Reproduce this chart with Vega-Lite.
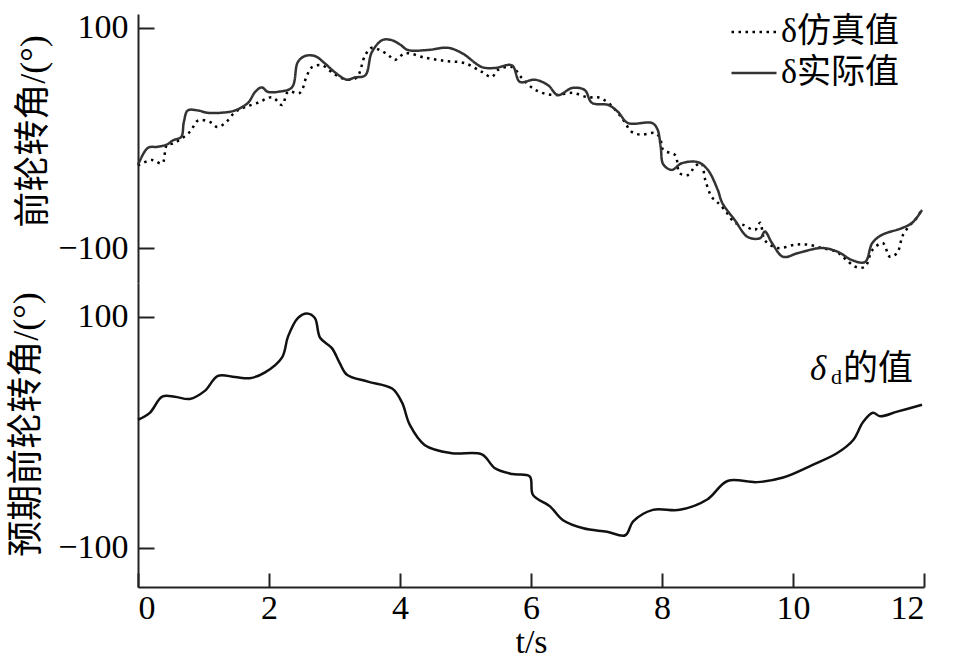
{
  "$schema": "https://vega.github.io/schema/vega-lite/v6.json",
  "autosize": "none",
  "padding": {"left": 138, "top": 14, "right": 816, "bottom": 653},
  "background": "white",
  "bounds": "flush",
  "spacing": 0,
  "config": {
    "view": {"stroke": null},
    "font": "'Liberation Serif', 'Times New Roman', serif",
    "axis": {
      "grid": false,
      "domainColor": "#222",
      "domainWidth": 2,
      "tickColor": "#222",
      "tickWidth": 2,
      "labelFont": "'Liberation Serif', 'Times New Roman', serif",
      "labelFontSize": 34,
      "labelColor": "#000",
      "titleFont": "'Liberation Serif', 'Times New Roman', 'Noto Sans CJK SC', serif",
      "titleFontSize": 36,
      "titleFontWeight": "normal",
      "titleColor": "#000"
    }
  },
  "datasets": {
    "delta": [
      {"series": "δ仿真值", "t": 0, "v": -25},
      {"series": "δ仿真值", "t": 0.21, "v": -20},
      {"series": "δ仿真值", "t": 0.37, "v": -23},
      {"series": "δ仿真值", "t": 0.44, "v": -6.5},
      {"series": "δ仿真值", "t": 0.54, "v": -5},
      {"series": "δ仿真值", "t": 0.79, "v": 5.5},
      {"series": "δ仿真值", "t": 0.92, "v": 16},
      {"series": "δ仿真值", "t": 1.1, "v": 14.5},
      {"series": "δ仿真值", "t": 1.21, "v": 10},
      {"series": "δ仿真值", "t": 1.33, "v": 13.5},
      {"series": "δ仿真值", "t": 1.48, "v": 23.5},
      {"series": "δ仿真值", "t": 1.63, "v": 28},
      {"series": "δ仿真值", "t": 1.83, "v": 32},
      {"series": "δ仿真值", "t": 2.05, "v": 37},
      {"series": "δ仿真值", "t": 2.2, "v": 30},
      {"series": "δ仿真值", "t": 2.29, "v": 42},
      {"series": "δ仿真值", "t": 2.47, "v": 41},
      {"series": "δ仿真值", "t": 2.58, "v": 57},
      {"series": "δ仿真值", "t": 2.66, "v": 64.5},
      {"series": "δ仿真值", "t": 2.81, "v": 66},
      {"series": "δ仿真值", "t": 3.0, "v": 58},
      {"series": "δ仿真值", "t": 3.19, "v": 53},
      {"series": "δ仿真值", "t": 3.34, "v": 55},
      {"series": "δ仿真值", "t": 3.47, "v": 75.5},
      {"series": "δ仿真值", "t": 3.57, "v": 82},
      {"series": "δ仿真值", "t": 3.69, "v": 80},
      {"series": "δ仿真值", "t": 3.82, "v": 75.5},
      {"series": "δ仿真值", "t": 3.92, "v": 71},
      {"series": "δ仿真值", "t": 4.08, "v": 77},
      {"series": "δ仿真值", "t": 4.38, "v": 73},
      {"series": "δ仿真值", "t": 4.69, "v": 70},
      {"series": "δ仿真值", "t": 4.99, "v": 68},
      {"series": "δ仿真值", "t": 5.25, "v": 60},
      {"series": "δ仿真值", "t": 5.4, "v": 55.5},
      {"series": "δ仿真值", "t": 5.5, "v": 62},
      {"series": "δ仿真值", "t": 5.71, "v": 64.5},
      {"series": "δ仿真值", "t": 5.86, "v": 54.5},
      {"series": "δ仿真值", "t": 6.02, "v": 45.5},
      {"series": "δ仿真值", "t": 6.17, "v": 41},
      {"series": "δ仿真值", "t": 6.37, "v": 39},
      {"series": "δ仿真值", "t": 6.63, "v": 41},
      {"series": "δ仿真值", "t": 6.87, "v": 37},
      {"series": "δ仿真值", "t": 7.02, "v": 37},
      {"series": "δ仿真值", "t": 7.18, "v": 32},
      {"series": "δ仿真值", "t": 7.39, "v": 18},
      {"series": "δ仿真值", "t": 7.54, "v": 5.5},
      {"series": "δ仿真值", "t": 7.69, "v": 3},
      {"series": "δ仿真值", "t": 7.89, "v": 4.5},
      {"series": "δ仿真值", "t": 7.97, "v": 0},
      {"series": "δ仿真值", "t": 8.02, "v": -11},
      {"series": "δ仿真值", "t": 8.2, "v": -15.5},
      {"series": "δ仿真值", "t": 8.27, "v": -32},
      {"series": "δ仿真值", "t": 8.4, "v": -33.6},
      {"series": "δ仿真值", "t": 8.5, "v": -26},
      {"series": "δ仿真值", "t": 8.6, "v": -23},
      {"series": "δ仿真值", "t": 8.66, "v": -38},
      {"series": "δ仿真值", "t": 8.76, "v": -53.6},
      {"series": "δ仿真值", "t": 8.84, "v": -58},
      {"series": "δ仿真值", "t": 8.96, "v": -65.5},
      {"series": "δ仿真值", "t": 9.11, "v": -77},
      {"series": "δ仿真值", "t": 9.24, "v": -79},
      {"series": "δ仿真值", "t": 9.42, "v": -83.6},
      {"series": "δ仿真值", "t": 9.5, "v": -77},
      {"series": "δ仿真值", "t": 9.57, "v": -93},
      {"series": "δ仿真值", "t": 9.77, "v": -100},
      {"series": "δ仿真值", "t": 10.03, "v": -97},
      {"series": "δ仿真值", "t": 10.23, "v": -97},
      {"series": "δ仿真值", "t": 10.44, "v": -100},
      {"series": "δ仿真值", "t": 10.67, "v": -103.6},
      {"series": "δ仿真值", "t": 10.82, "v": -111},
      {"series": "δ仿真值", "t": 10.95, "v": -117},
      {"series": "δ仿真值", "t": 11.1, "v": -117},
      {"series": "δ仿真值", "t": 11.21, "v": -102},
      {"series": "δ仿真值", "t": 11.37, "v": -95.5},
      {"series": "δ仿真值", "t": 11.48, "v": -108},
      {"series": "δ仿真值", "t": 11.59, "v": -104.5},
      {"series": "δ仿真值", "t": 11.68, "v": -88},
      {"series": "δ仿真值", "t": 11.82, "v": -77},
      {"series": "δ仿真值", "t": 11.9, "v": -72},
      {"series": "δ仿真值", "t": 11.97, "v": -63.6},
      {"series": "δ实际值", "t": 0, "v": -24.5},
      {"series": "δ实际值", "t": 0.15, "v": -9},
      {"series": "δ实际值", "t": 0.3, "v": -8},
      {"series": "δ实际值", "t": 0.44, "v": -6},
      {"series": "δ实际值", "t": 0.54, "v": -2},
      {"series": "δ实际值", "t": 0.66, "v": 1},
      {"series": "δ实际值", "t": 0.7, "v": 14.5},
      {"series": "δ实际值", "t": 0.76, "v": 25},
      {"series": "δ实际值", "t": 0.92, "v": 25},
      {"series": "δ实际值", "t": 1.05, "v": 23},
      {"series": "δ实际值", "t": 1.28, "v": 23},
      {"series": "δ实际值", "t": 1.48, "v": 25},
      {"series": "δ实际值", "t": 1.68, "v": 32},
      {"series": "δ实际值", "t": 1.79, "v": 42},
      {"series": "δ实际值", "t": 1.89, "v": 46},
      {"series": "δ实际值", "t": 1.98, "v": 42},
      {"series": "δ实际值", "t": 2.14, "v": 42},
      {"series": "δ实际值", "t": 2.35, "v": 46},
      {"series": "δ实际值", "t": 2.44, "v": 69},
      {"series": "δ实际值", "t": 2.55, "v": 74.5},
      {"series": "δ实际值", "t": 2.7, "v": 74.5},
      {"series": "δ实际值", "t": 2.85, "v": 68},
      {"series": "δ实际值", "t": 3.0, "v": 60},
      {"series": "δ实际值", "t": 3.19, "v": 53},
      {"series": "δ实际值", "t": 3.31, "v": 55},
      {"series": "δ实际值", "t": 3.47, "v": 57},
      {"series": "δ实际值", "t": 3.57, "v": 78},
      {"series": "δ实际值", "t": 3.73, "v": 89},
      {"series": "δ实际值", "t": 3.87, "v": 89},
      {"series": "δ实际值", "t": 4.0, "v": 85},
      {"series": "δ实际值", "t": 4.12, "v": 80},
      {"series": "δ实际值", "t": 4.43, "v": 80},
      {"series": "δ实际值", "t": 4.73, "v": 82},
      {"series": "δ实际值", "t": 4.95, "v": 77},
      {"series": "δ实际值", "t": 5.25, "v": 64.5},
      {"series": "δ实际值", "t": 5.45, "v": 63.6},
      {"series": "δ实际值", "t": 5.71, "v": 66},
      {"series": "δ实际值", "t": 5.83, "v": 51},
      {"series": "δ实际值", "t": 6.06, "v": 53},
      {"series": "δ实际值", "t": 6.26, "v": 48},
      {"series": "δ实际值", "t": 6.41, "v": 39},
      {"series": "δ实际值", "t": 6.63, "v": 45.5},
      {"series": "δ实际值", "t": 6.82, "v": 43.6},
      {"series": "δ实际值", "t": 6.93, "v": 32},
      {"series": "δ实际值", "t": 7.18, "v": 30},
      {"series": "δ实际值", "t": 7.33, "v": 23.6},
      {"series": "δ实际值", "t": 7.48, "v": 13.6},
      {"series": "δ实际值", "t": 7.85, "v": 13.6},
      {"series": "δ实际值", "t": 7.93, "v": 8},
      {"series": "δ实际值", "t": 7.98, "v": -8},
      {"series": "δ实际值", "t": 8.02, "v": -24},
      {"series": "δ实际值", "t": 8.15, "v": -29},
      {"series": "δ实际值", "t": 8.3, "v": -23},
      {"series": "δ实际值", "t": 8.55, "v": -22},
      {"series": "δ实际值", "t": 8.7, "v": -29},
      {"series": "δ实际值", "t": 8.85, "v": -47},
      {"series": "δ实际值", "t": 8.92, "v": -59},
      {"series": "δ实际值", "t": 9.11, "v": -74.5},
      {"series": "δ实际值", "t": 9.31, "v": -90},
      {"series": "δ实际值", "t": 9.5, "v": -91},
      {"series": "δ实际值", "t": 9.57, "v": -85},
      {"series": "δ实际值", "t": 9.68, "v": -95.5},
      {"series": "δ实际值", "t": 9.85, "v": -108},
      {"series": "δ实际值", "t": 10.08, "v": -104.5},
      {"series": "δ实际值", "t": 10.44, "v": -100},
      {"series": "δ实际值", "t": 10.69, "v": -103.6},
      {"series": "δ实际值", "t": 10.9, "v": -111},
      {"series": "δ实际值", "t": 11.1, "v": -112.7},
      {"series": "δ实际值", "t": 11.21, "v": -95.5},
      {"series": "δ实际值", "t": 11.36, "v": -88},
      {"series": "δ实际值", "t": 11.66, "v": -82},
      {"series": "δ实际值", "t": 11.82, "v": -77},
      {"series": "δ实际值", "t": 11.97, "v": -65.5}
    ],
    "dd": [
      {"t": 0, "v": 11}, {"t": 0.18, "v": 17}, {"t": 0.37, "v": 31}, {"t": 0.56, "v": 31},
      {"t": 0.79, "v": 29}, {"t": 1.02, "v": 36}, {"t": 1.22, "v": 49}, {"t": 1.48, "v": 48},
      {"t": 1.71, "v": 47}, {"t": 1.94, "v": 52}, {"t": 2.2, "v": 65}, {"t": 2.29, "v": 83},
      {"t": 2.44, "v": 99}, {"t": 2.58, "v": 103}, {"t": 2.7, "v": 99}, {"t": 2.78, "v": 82},
      {"t": 2.96, "v": 73}, {"t": 3.08, "v": 60}, {"t": 3.19, "v": 50}, {"t": 3.51, "v": 44},
      {"t": 3.88, "v": 38}, {"t": 4.03, "v": 26}, {"t": 4.15, "v": 6.5}, {"t": 4.38, "v": -11},
      {"t": 4.79, "v": -18}, {"t": 5.25, "v": -19}, {"t": 5.45, "v": -31}, {"t": 5.71, "v": -36},
      {"t": 5.98, "v": -38}, {"t": 6.03, "v": -54}, {"t": 6.29, "v": -64}, {"t": 6.49, "v": -76},
      {"t": 6.8, "v": -83}, {"t": 7.16, "v": -86}, {"t": 7.44, "v": -89}, {"t": 7.56, "v": -77},
      {"t": 7.86, "v": -67}, {"t": 8.27, "v": -67}, {"t": 8.69, "v": -58}, {"t": 9.0, "v": -42},
      {"t": 9.45, "v": -43}, {"t": 9.85, "v": -39}, {"t": 10.3, "v": -28}, {"t": 10.67, "v": -18},
      {"t": 10.92, "v": -6.5}, {"t": 11.07, "v": 9}, {"t": 11.22, "v": 17}, {"t": 11.33, "v": 14},
      {"t": 11.59, "v": 18}, {"t": 11.97, "v": 24}
    ],
    "ann": [{"t": 10.26, "v": 45.5}]
  },
  "vconcat": [
    {
      "width": 786,
      "height": 269,
      "data": {"name": "delta"},
      "mark": {"type": "line", "interpolate": "catmull-rom", "strokeWidth": 2.5},
      "encoding": {
        "x": {"field": "t", "type": "quantitative", "scale": {"domain": [0, 12], "nice": false, "zero": false}, "axis": null},
        "y": {
          "field": "v", "type": "quantitative",
          "scale": {"domain": [-131.8, 112.7], "nice": false, "zero": false},
          "axis": {"values": [-100, 100], "tickSize": -16, "labelPadding": 26, "title": "前轮转角/(°)", "titleAngle": -90, "titleX": -94, "titleY": 117, "titleBaseline": "alphabetic", "titleAlign": "center"}
        },
        "strokeDash": {
          "field": "series", "type": "nominal",
          "scale": {"domain": ["δ仿真值", "δ实际值"], "range": [[2.5, 4.5], [1, 0]]},
          "legend": {"orient": "none", "legendX": 592, "legendY": -6, "title": null, "symbolType": "stroke", "symbolSize": 2025, "symbolStrokeWidth": 2.5, "labelFontSize": 34, "labelFont": "'Liberation Serif', 'Times New Roman', 'Noto Sans CJK SC', serif", "labelColor": "#000", "labelOffset": 3, "rowPadding": -10}
        },
        "color": {
          "field": "series", "type": "nominal",
          "scale": {"domain": ["δ仿真值", "δ实际值"], "range": ["#000", "#333"]},
          "legend": {"orient": "none", "legendX": 592, "legendY": -6, "title": null, "symbolType": "stroke", "symbolSize": 2025, "symbolStrokeWidth": 2.5, "labelFontSize": 34, "labelFont": "'Liberation Serif', 'Times New Roman', 'Noto Sans CJK SC', serif", "labelColor": "#000", "labelOffset": 3, "rowPadding": -10}
        }
      }
    },
    {
      "width": 786,
      "height": 304,
      "encoding": {
        "x": {
          "field": "t", "type": "quantitative",
          "scale": {"domain": [0, 12], "nice": false, "zero": false},
          "axis": {"values": [0, 2, 4, 6, 8, 10, 12], "tickSize": -14, "labelPadding": 18, "title": "t/s", "titleFontSize": 34, "titleY": 65, "titleBaseline": "alphabetic"}
        },
        "y": {
          "field": "v", "type": "quantitative",
          "scale": {"domain": [-133.8, 129.4], "nice": false, "zero": false},
          "axis": {"values": [-100, 100], "tickSize": -16, "labelPadding": 26, "title": "预期前轮转角/(°)", "titleAngle": -90, "titleX": -101, "titleY": 141, "titleBaseline": "alphabetic", "titleAlign": "center"}
        }
      },
      "layer": [
        {
          "data": {"name": "dd"},
          "mark": {"type": "line", "interpolate": "catmull-rom", "strokeWidth": 2.5, "color": "#111"}
        },
        {
          "data": {"name": "ann"},
          "mark": {"type": "text", "text": "δ", "font": "'Liberation Serif', 'Times New Roman', serif", "fontStyle": "italic", "fontSize": 35, "align": "left", "baseline": "alphabetic", "color": "#000"}
        },
        {
          "data": {"name": "ann"},
          "mark": {"type": "text", "text": "d", "font": "'Liberation Serif', 'Times New Roman', serif", "fontSize": 22, "align": "left", "baseline": "alphabetic", "dx": 21, "dy": 4, "color": "#000"}
        },
        {
          "data": {"name": "ann"},
          "mark": {"type": "text", "text": "的值", "font": "'Liberation Serif', 'Times New Roman', 'Noto Sans CJK SC', serif", "fontSize": 35, "align": "left", "baseline": "alphabetic", "dx": 33, "color": "#000"}
        }
      ]
    }
  ]
}
